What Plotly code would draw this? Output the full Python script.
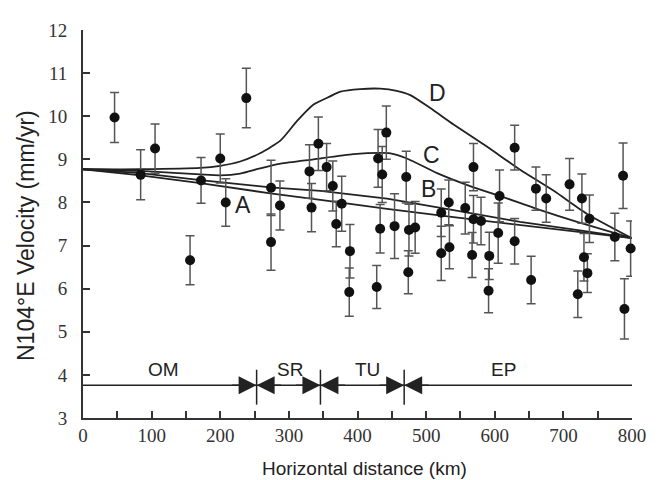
import plotly.graph_objects as go

# ---- GPS data (distance km, velocity mm/yr, 1-sigma error) ----
dist = [46, 84, 105, 156, 172, 200, 208, 238, 274, 274, 287, 330, 333, 343, 355, 364,
        369, 377, 388, 389, 428, 430, 433, 436, 442, 454, 471, 474, 475, 484, 522, 522,
        533, 534, 557, 567, 569, 569, 580, 591, 592, 605, 607, 629, 629, 653, 660, 675,
        709, 721, 727, 730, 735, 738, 775, 787, 789, 798, 812]
vel = [9.97, 8.64, 9.25, 6.66, 8.51, 9.02, 8.00, 10.42, 8.34, 7.08, 7.93, 8.72, 7.88, 9.36,
       8.82, 8.38, 7.50, 7.97, 5.92, 6.87, 6.04, 9.02, 7.39, 8.65, 9.62, 7.45, 8.59, 6.38,
       7.36, 7.42, 7.76, 6.82, 8.00, 6.96, 7.87, 6.78, 8.82, 7.61, 7.57, 5.95, 6.76, 7.29,
       8.15, 9.27, 7.10, 6.20, 8.32, 8.09, 8.42, 5.87, 8.09, 6.73, 6.36, 7.62, 7.20, 8.62,
       5.53, 6.93, 8.03]
err = [0.58, 0.58, 0.57, 0.57, 0.53, 0.57, 0.55, 0.69, 0.64, 0.65, 0.57, 0.62, 0.56, 0.62,
       0.55, 0.58, 0.53, 0.64, 0.56, 0.62, 0.50, 0.67, 0.56, 0.65, 0.62, 0.75, 0.60, 0.50,
       0.60, 0.60, 0.55, 0.63, 0.52, 0.50, 0.60, 0.52, 0.55, 0.55, 0.55, 0.51, 0.55, 0.70,
       0.60, 0.52, 0.53, 0.55, 0.50, 0.55, 0.60, 0.54, 0.57, 0.55, 0.45, 0.55, 0.55, 0.76,
       0.70, 0.64, 0.70]

# ---- model curves ----
curve_A_x = [0, 84, 171, 273, 346, 443, 540, 637, 734, 800]
curve_A_y = [8.77, 8.63, 8.45, 8.21, 8.06, 7.85, 7.66, 7.48, 7.29, 7.17]
curve_B_x = [0, 84, 171, 273, 346, 443, 540, 637, 734, 800]
curve_B_y = [8.77, 8.68, 8.52, 8.35, 8.27, 8.09, 7.82, 7.55, 7.33, 7.17]
curve_C_x = [0, 84, 171, 200, 229, 258, 288, 336, 394, 433, 448, 472, 516, 564, 613, 661, 720, 800]
curve_C_y = [8.77, 8.73, 8.65, 8.63, 8.67, 8.79, 8.90, 9.00, 9.12, 9.15, 9.14, 9.02, 8.68, 8.38,
             8.12, 7.85, 7.55, 7.17]
curve_D_x = [0, 84, 171, 200, 229, 258, 288, 312, 336, 360, 375, 404, 433, 457, 477, 506, 540,
             589, 637, 686, 734, 800]
curve_D_y = [8.77, 8.77, 8.80, 8.85, 8.95, 9.14, 9.44, 9.89, 10.27, 10.46, 10.57, 10.63, 10.64,
             10.59, 10.49, 10.19, 9.81, 9.29, 8.76, 8.27, 7.74, 7.17]
curve_names = ["A", "B", "C", "D"]
curve_label_x = [233, 503, 508, 516]
curve_label_y = [7.95, 8.31, 9.10, 10.53]

# ---- tectonic zones ----
zone_bounds = [0, 253, 346, 468, 800]
zone_names = ["OM", "SR", "TU", "EP"]
zone_label_x = [118, 301, 415, 613]
zone_label_y = 4.13
arrow_y = 3.76
divider_lo, divider_hi = 3.31, 4.12

x_ticks = list(range(0, 801, 100))
y_ticks = list(range(3, 13))

LINE = "#222222"
SERIF = "Liberation Serif, Times New Roman, serif"
SANS = "Liberation Sans, Arial, sans-serif"
fig = go.Figure()

curves = [(curve_A_x, curve_A_y, "linear"), (curve_B_x, curve_B_y, "linear"),
          (curve_C_x, curve_C_y, "spline"), (curve_D_x, curve_D_y, "spline")]
for (cx, cy, shp), nm in zip(curves, curve_names):
    fig.add_trace(go.Scatter(x=cx, y=cy, mode="lines", name=nm,
                             line=dict(color=LINE, width=1.8, shape=shp, smoothing=0.6),
                             showlegend=False, hoverinfo="skip"))

fig.add_trace(go.Scatter(
    x=dist, y=vel, mode="markers", showlegend=False, cliponaxis=False,
    marker=dict(color="#111111", size=10),
    error_y=dict(type="data", array=err, visible=True, color="#555555",
                 thickness=1.5, width=4.5)))

shapes = [dict(type="line", xref="x", yref="y", x0=zone_bounds[0], x1=zone_bounds[-1],
               y0=arrow_y, y1=arrow_y, line=dict(color=LINE, width=1.5))]
for b in zone_bounds[1:-1]:
    shapes.append(dict(type="line", xref="x", yref="y", x0=b, x1=b, y0=divider_lo,
                       y1=divider_hi, line=dict(color=LINE, width=1.5)))

annotations = []
for b in zone_bounds[1:-1]:
    for off in (-26, 26):
        annotations.append(dict(x=b, y=arrow_y, xref="x", yref="y", text="", showarrow=True,
                                ax=off, ay=0, arrowhead=2, arrowsize=2.4, arrowwidth=1.5,
                                arrowcolor=LINE, standoff=0))
for nm, lx in zip(zone_names, zone_label_x):
    annotations.append(dict(x=lx, y=zone_label_y, xref="x", yref="y", text=nm,
                            showarrow=False, font=dict(family=SANS, size=19, color=LINE)))
for nm, lx, ly in zip(curve_names, curve_label_x, curve_label_y):
    annotations.append(dict(x=lx, y=ly, xref="x", yref="y", text=nm, showarrow=False,
                            font=dict(family=SANS, size=23, color=LINE)))
annotations.append(dict(x=0, y=0.5, xref="paper", yref="paper", xanchor="center",
                        yanchor="middle", xshift=-57, yshift=-12,
                        text="N104°E Velocity (mm/yr)", textangle=-90, showarrow=False,
                        font=dict(family=SANS, size=23, color=LINE)))
annotations.append(dict(x=0.5, y=0, xref="paper", yref="paper", xanchor="center",
                        yanchor="middle", xshift=7, yshift=-50,
                        text="Horizontal distance (km)", showarrow=False,
                        font=dict(family=SANS, size=19, color=LINE)))

fig.update_layout(
    width=652, height=472, margin=dict(l=75, r=28, t=12, b=62),
    plot_bgcolor="white", paper_bgcolor="white",
    shapes=shapes, annotations=annotations,
    xaxis=dict(range=[0, 800], tickvals=x_ticks, ticks="inside", ticklen=7, tickwidth=1.5,
               tickcolor="#333", showline=True, linecolor="#333", linewidth=2,
               showgrid=False, zeroline=False, ticklabelstandoff=-1,
               tickfont=dict(family=SERIF, size=19, color="#333"),
               minor=dict(dtick=50, tick0=0, ticks="inside", ticklen=7, tickwidth=1.5,
                          tickcolor="#333", showgrid=False)),
    yaxis=dict(range=[3, 12], tickvals=y_ticks, ticks="inside", ticklen=7, tickwidth=1.5,
               tickcolor="#333", showline=True, linecolor="#333", linewidth=2,
               showgrid=False, zeroline=False, ticklabelstandoff=10,
               tickfont=dict(family=SERIF, size=19, color="#333")),
)

fig.write_html("out.html")
